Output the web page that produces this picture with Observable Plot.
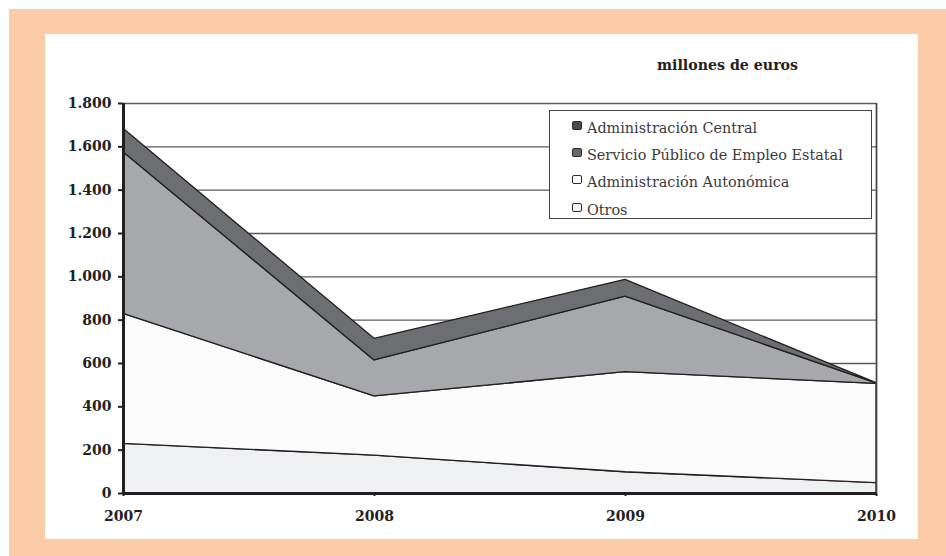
<!DOCTYPE html>
<html>
<head>
<meta charset="utf-8">
<script src="https://cdn.jsdelivr.net/npm/d3@7"></script>
<script src="https://cdn.jsdelivr.net/npm/@observablehq/plot@0.6"></script>
<style>
  body { margin: 0; background: #fff; }
  #wrap { position: relative; width: 946px; height: 556px; overflow: hidden; background: #fff; }
  #peach { position: absolute; left: 9px; top: 9px; width: 937px; height: 547px; background: #fccca8; }
  #panel { position: absolute; left: 45px; top: 34px; width: 873px; height: 505px; background: #fff; }
  #chart { position: absolute; left: 0; top: 0; }
  #title { position: absolute; left: 657px; top: 57px; font: bold 14.2px "DejaVu Serif"; color: #222; white-space: nowrap; }
  #legend { position: absolute; left: 549px; top: 110px; width: 321px; height: 107px; border: 1.5px solid #444; background: #fff; font: 14.4px "DejaVu Serif"; color: #3a3a3a; }
  .row { position: absolute; left: 0; height: 16px; line-height: 16px; white-space: nowrap; }
  .sw { position: absolute; left: 22px; top: 1px; width: 8px; height: 7px; border: 1.5px solid #2a2a2a; border-radius: 2px; }
  .lab { position: absolute; left: 37px; top: 0; }
</style>
</head>
<body>
<div id="wrap">
  <div id="peach"></div>
  <div id="panel"></div>
  <div id="chart"></div>
  <div id="title">millones de euros</div>
  <div id="legend"></div>
</div>
<script>
const years = [2007, 2008, 2009, 2010];
const seriesNames = ["Otros", "Administración Autonómica", "Servicio Público de Empleo Estatal", "Administración Central"];
const otros      = [229, 175, 98, 48];
const autonomica = [600, 273, 462, 458];
const spee       = [746, 166, 349, 2];
const central    = [108, 100, 77, 1];
const seriesColors = ["#eff0f2", "#fbfbfb", "#a7a8ab", "#6d6e71"];
const legendNames = ["Administración Central", "Servicio Público de Empleo Estatal", "Administración Autonómica", "Otros"];
const legendSwatch = ["#4a4a4a", "#6a6a6a", "#ffffff", "#f4f4f4"];
const yTicks = [0, 200, 400, 600, 800, 1000, 1200, 1400, 1600, 1800];
const yTickLabels = ["0", "200", "400", "600", "800", "1.000", "1.200", "1.400", "1.600", "1.800"];
const xTickLabels = ["2007", "2008", "2009", "2010"];

const seriesValues = [otros, autonomica, spee, central];
const data = [];
seriesValues.forEach((vals, i) => vals.forEach((v, j) => data.push({year: years[j], series: seriesNames[i], value: v})));

const chart = Plot.plot({
  width: 946, height: 556,
  marginLeft: 123, marginRight: 70, marginTop: 103, marginBottom: 63,
  style: {background: "transparent", fontFamily: "DejaVu Serif", fontSize: "14px", fontWeight: "bold", color: "#222"},
  x: {domain: [2007, 2010], label: null},
  y: {domain: [0, 1800], label: null},
  color: {domain: seriesNames, range: seriesColors},
  marks: [
    Plot.ruleY(yTicks.slice(1), {stroke: "#5a5a5a", strokeWidth: 1.4}),
    Plot.areaY(data, {x: "year", y: "value", z: "series", fill: "series", stroke: "#231f20", strokeWidth: 1.3, strokeLinejoin: "round"}),
    Plot.ruleX([2010], {stroke: "#4a4a4a", strokeWidth: 1.8}),
    Plot.ruleX([2007], {stroke: "#231f20", strokeWidth: 3}),
    Plot.ruleY([0], {stroke: "#231f20", strokeWidth: 3}),
    Plot.axisY({ticks: yTicks, tickFormat: d => yTickLabels[yTicks.indexOf(d)], tickSize: 5, tickPadding: 7, stroke: "#231f20", strokeWidth: 2}),
    Plot.axisX({ticks: years, tickFormat: d => xTickLabels[years.indexOf(d)], tickSize: 3, tickPadding: 15, stroke: "#231f20", strokeWidth: 2})
  ]
});
document.getElementById("chart").appendChild(chart);

const legend = document.getElementById("legend");
const rowCenters = [16.7, 44, 71, 99];
legendNames.forEach((name, i) => {
  const row = document.createElement("div");
  row.className = "row";
  row.style.top = (rowCenters[i] - 8) + "px";
  const sw = document.createElement("div");
  sw.className = "sw";
  sw.style.background = legendSwatch[i];
  const lab = document.createElement("div");
  lab.className = "lab";
  lab.textContent = name;
  row.appendChild(sw);
  row.appendChild(lab);
  legend.appendChild(row);
});
</script>
</body>
</html>
